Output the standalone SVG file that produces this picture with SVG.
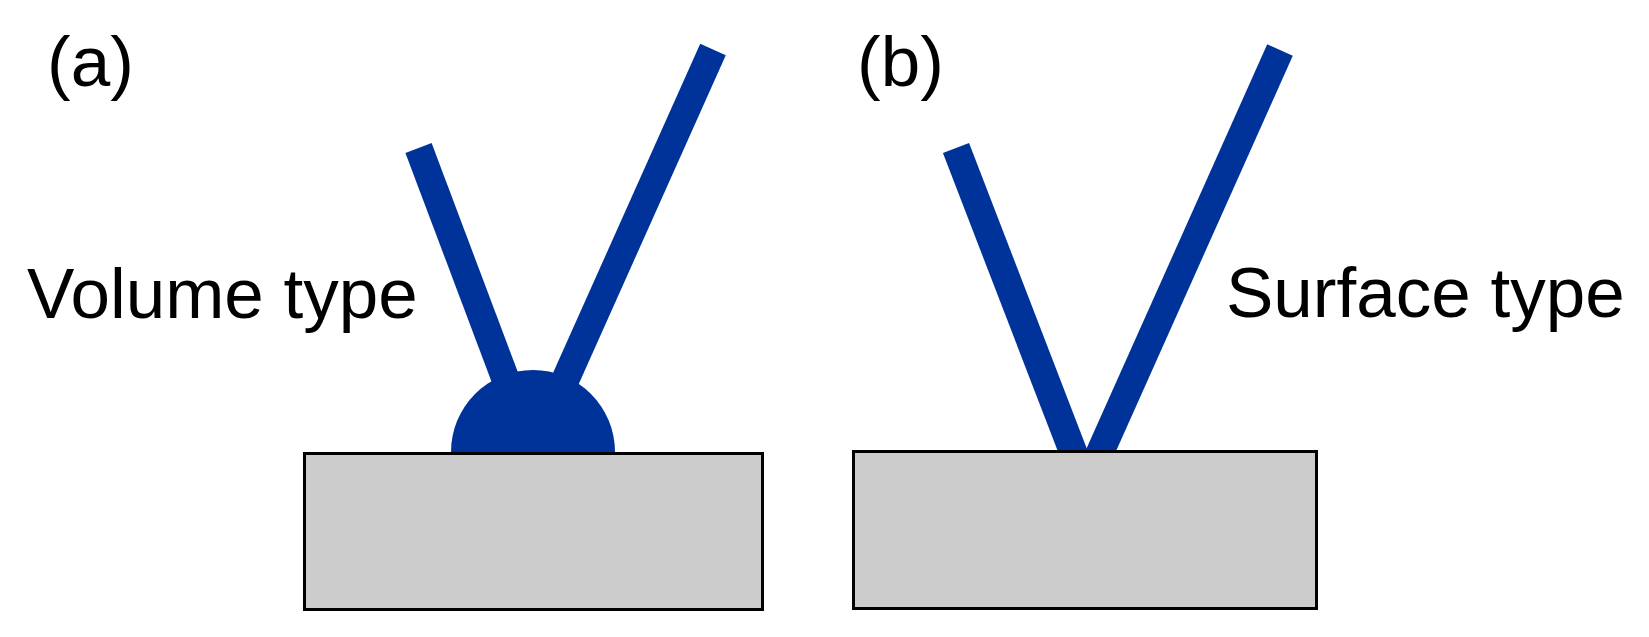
<svg xmlns="http://www.w3.org/2000/svg" width="1649" height="637" viewBox="0 0 1649 637">
<style>
.lbl{font-family:"Liberation Sans",Arial,sans-serif;font-size:71px;fill:#000}
.fib{stroke:#003399;stroke-width:28;fill:none;stroke-linecap:butt}
.sub{fill:#cccccc;stroke:#000;stroke-width:3}
</style>
<rect width="1649" height="637" fill="#fff"/>
<g id="panel-a">
<text class="lbl" x="47" y="86">(a)</text>
<text class="lbl" x="27" y="318">Volume type</text>
<g id="fibers-a">
<line class="fib" x1="418.5" y1="148" x2="533" y2="452"/>
<line class="fib" x1="713" y1="49.5" x2="533" y2="452"/>
</g>
<circle id="droplet" cx="533" cy="452" r="82" fill="#003399"/>
<rect id="substrate-a" class="sub" x="304.5" y="453.5" width="458" height="156"/>
</g>
<g id="panel-b">
<text class="lbl" x="857" y="86">(b)</text>
<text class="lbl" x="1226" y="317">Surface type</text>
<g id="fibers-b">
<line class="fib" x1="956" y1="148" x2="1082" y2="475"/>
<line class="fib" x1="1280" y1="50" x2="1090" y2="475"/>
</g>
<rect id="substrate-b" class="sub" x="853.5" y="451.5" width="463" height="157"/>
</g>
</svg>
